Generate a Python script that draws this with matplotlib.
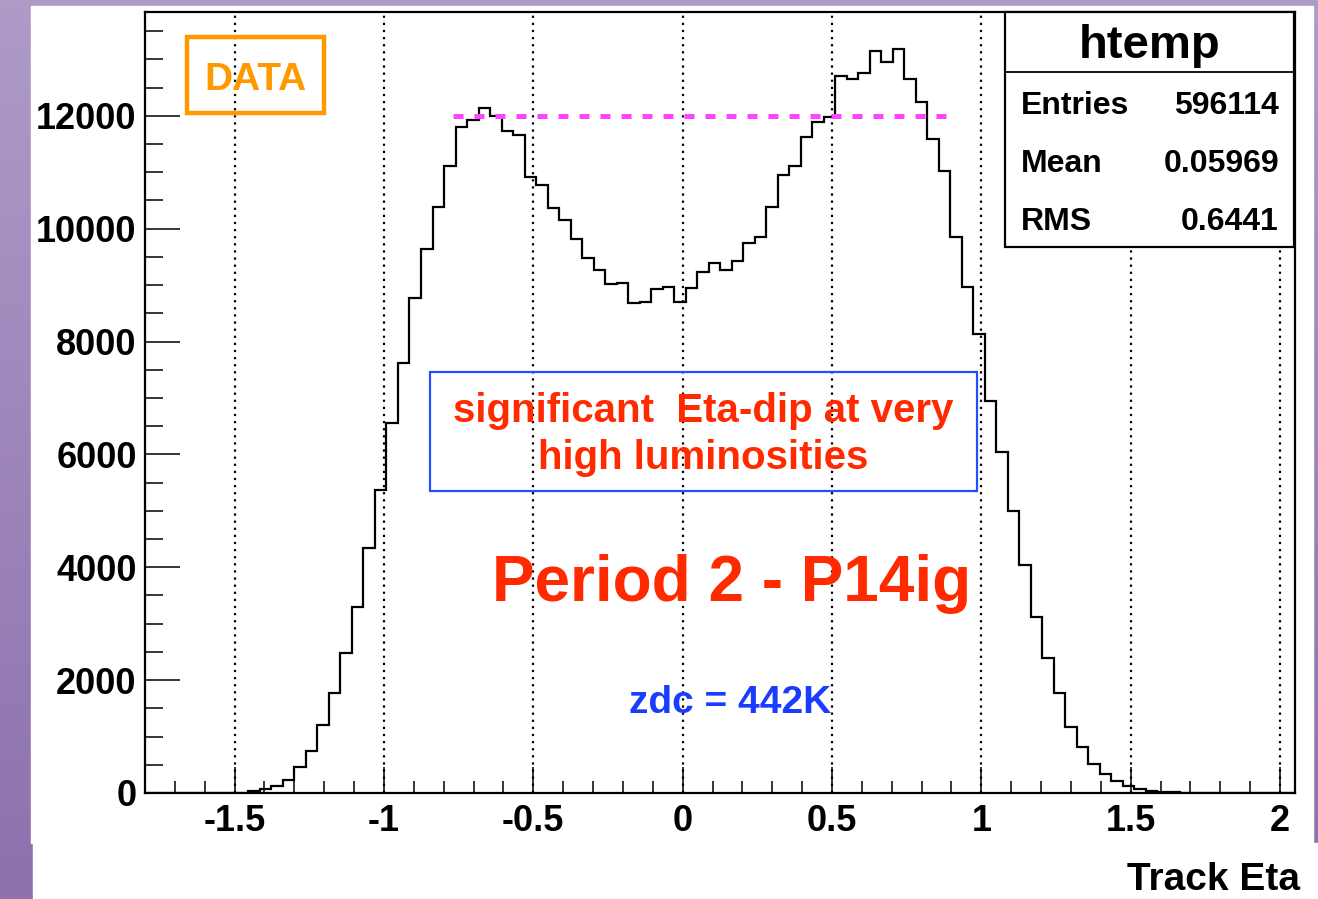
import numpy as np
import matplotlib
matplotlib.use("Agg")
import matplotlib.pyplot as plt
from matplotlib.patches import Rectangle
from matplotlib.lines import Line2D
from matplotlib.ticker import MultipleLocator

# histogram of track eta, 100 bins from -1.8 to 2.05
eta_min, eta_max = -1.8, 2.05
counts = [0, 0, 0, 0, 0, 0, 0, 0, 8, 30,
          70, 120, 230, 455, 750, 1205, 1767, 2487, 3290, 4348,
          5370, 6553, 7627, 8768, 9637, 10381, 11119, 11799, 11929, 12135,
          12005, 11739, 11657, 10913, 10776, 10374, 10156, 9819, 9477, 9270,
          9016, 9033, 8679, 8708, 8933, 8974, 8708, 8945, 9229, 9388,
          9270, 9435, 9743, 9860, 10381, 10954, 11119, 11622, 11888, 11988,
          12708, 12649, 12767, 13151, 12950, 13180, 12655, 12253, 11592, 11030,
          9849, 8974, 8132, 6941, 6035, 4998, 4038, 3119, 2393, 1772,
          1170, 824, 519, 337, 204, 117, 70, 35, 20, 10,
          5, 0, 0, 0, 0, 0, 0, 0, 0, 0]

xticks = [-1.5, -1, -0.5, 0, 0.5, 1, 1.5, 2]
xtick_labels = ['-1.5', '-1', '-0.5', '0', '0.5', '1', '1.5', '2']

# dashed reference level
ref_level = 12000
ref_x = [-0.77, 0.915]

stats_title = 'htemp'
stats_names = ['Entries', 'Mean', 'RMS']
stats_values = ['596114', '0.05969', '0.6441']

W, H = 1318, 899
FONT = 'Liberation Sans'
RED = '#ff2a00'
BLUE = '#1a3cff'
ORANGE = '#ff9900'


def fx(x):
    return x / W


def fy(y):
    return 1 - y / H


fig = plt.figure(figsize=(W / 100, H / 100), dpi=100)

# purple slide background
bg = fig.add_axes([0, 0, 1, 1], zorder=-10)
grad = np.linspace(0, 1, 256).reshape(-1, 1)
top = np.array([174, 155, 200]) / 255
bot = np.array([141, 113, 173]) / 255
img = top[None, None, :] * (1 - grad[:, :, None]) + bot[None, None, :] * grad[:, :, None]
bg.imshow(img, aspect='auto', extent=[0, 1, 0, 1])
bg.add_patch(Rectangle((fx(31), fy(843)), fx(1313 - 31), (843 - 6) / H, color='white'))
bg.add_patch(Rectangle((fx(33), 0), 1 - fx(33), (H - 843) / H, color='white'))
bg.set_xlim(0, 1)
bg.set_ylim(0, 1)
bg.axis('off')

ax = fig.add_axes([fx(145), fy(793), fx(1295 - 145), (793 - 12) / H])
edges = np.linspace(eta_min, eta_max, len(counts) + 1)
ax.stairs(counts, edges, color='black', lw=1.6, zorder=3)

ax.set_xlim(eta_min, eta_max)
ax.set_ylim(0, 13840)

ax.set_xticks(xticks)
ax.set_xticklabels(xtick_labels)
ax.xaxis.set_minor_locator(MultipleLocator(0.1))
ax.yaxis.set_major_locator(MultipleLocator(2000))
ax.yaxis.set_minor_locator(MultipleLocator(500))
ax.tick_params(axis='x', which='major', direction='in', length=19, width=1.1, pad=8)
ax.tick_params(axis='x', which='minor', direction='in', length=9, width=1.1)
ax.tick_params(axis='y', which='major', direction='in', length=25, width=1.1, pad=6)
ax.tick_params(axis='y', which='minor', direction='in', length=13, width=1.1)
for lab in ax.get_xticklabels() + ax.get_yticklabels():
    lab.set_fontfamily(FONT)
    lab.set_fontweight('bold')
    lab.set_fontsize(26)
for s in ax.spines.values():
    s.set_linewidth(1.6)

ax.grid(axis='x', which='major', color='black', linestyle=(0, (1, 2.2)), lw=1.6)

ax.hlines(ref_level, ref_x[0], ref_x[1], color='#ff44ff', lw=3.6,
          linestyle=(0, (2.0, 2.2)), zorder=4)

# DATA label
fig.patches.append(Rectangle((fx(187), fy(113)), fx(324 - 187), (113 - 37) / H,
                             fill=False, edgecolor=ORANGE, lw=3.2,
                             transform=fig.transFigure, zorder=5))
fig.text(fx(255.5), fy(90), 'DATA', color=ORANGE, fontsize=28, fontweight='bold',
         family=FONT, ha='center', va='baseline')

# stats box
fig.patches.append(Rectangle((fx(1005), fy(247)), fx(1294 - 1005), (247 - 12) / H,
                             facecolor='white', edgecolor='black', lw=1.6,
                             transform=fig.transFigure, zorder=5))
fig.lines.append(Line2D([fx(1005), fx(1294)], [fy(72), fy(72)], color='black', lw=1.3,
                        transform=fig.transFigure, zorder=6))
fig.text(fx(1149.5), fy(58), stats_title, fontsize=34, fontweight='bold', family=FONT,
         ha='center', va='baseline', zorder=7)
for i, (name, val) in enumerate(zip(stats_names, stats_values)):
    yb = 114 + 58 * i
    fig.text(fx(1021), fy(yb), name, fontsize=23, fontweight='bold', family=FONT,
             ha='left', va='baseline', zorder=7)
    fig.text(fx(1279), fy(yb), val, fontsize=23, fontweight='bold', family=FONT,
             ha='right', va='baseline', zorder=7)

# comment box
fig.patches.append(Rectangle((fx(430), fy(491)), fx(977 - 430), (491 - 372) / H,
                             fill=False, edgecolor='#1f4fff', lw=1.6,
                             transform=fig.transFigure, zorder=5))
fig.text(fx(703), fy(422), 'significant  Eta-dip at very', color=RED, fontsize=29,
         fontweight='bold', family=FONT, ha='center', va='baseline')
fig.text(fx(703), fy(469), 'high luminosities', color=RED, fontsize=29,
         fontweight='bold', family=FONT, ha='center', va='baseline')

fig.text(fx(732), fy(601), 'Period 2 - P14ig', color=RED, fontsize=46,
         fontweight='bold', family=FONT, ha='center', va='baseline')
fig.text(fx(730.5), fy(713), 'zdc = 442K', color=BLUE, fontsize=28,
         fontweight='bold', family=FONT, ha='center', va='baseline')

fig.text(fx(1300), fy(890), 'Track Eta', fontsize=28, fontweight='bold', family=FONT,
         ha='right', va='baseline')

fig.savefig('out.png', dpi=100)
